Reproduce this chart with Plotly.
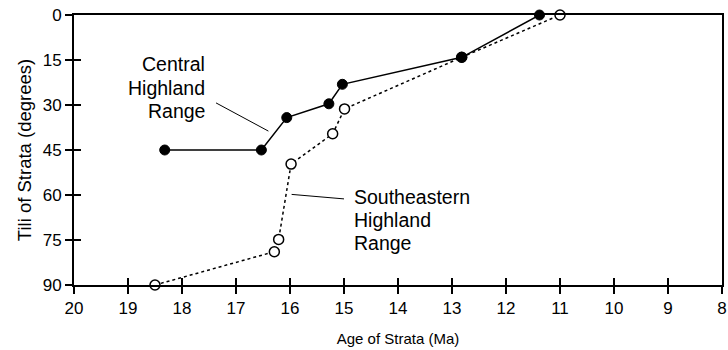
import plotly.graph_objects as go

central_age = [18.32, 16.53, 16.06, 15.28, 15.03, 12.82, 11.38]
central_tilt = [45, 45, 34.2, 29.6, 23.1, 14.1, 0]
se_age = [18.5, 16.29, 16.21, 15.98, 15.21, 14.99, 12.82, 11.0]
se_tilt = [90, 78.9, 74.8, 49.7, 39.6, 31.3, 14.1, 0]
x_ticks = list(range(20, 7, -1))
y_ticks = [0, 15, 30, 45, 60, 75, 90]

central_label = ["Central", "Highland", "Range"]
central_label_y = [16.3, 24.4, 32.0]
se_label = ["Southeastern", "Highland", "Range"]
se_label_y = [60.7, 68.3, 76.0]

FONT = "Liberation Sans, Arial, sans-serif"

fig = go.Figure()
fig.add_trace(go.Scatter(
    x=se_age, y=se_tilt, mode="lines+markers",
    line=dict(color="black", width=1.5, dash="dot"),
    marker=dict(size=10, color="white", line=dict(color="black", width=1.5)),
    cliponaxis=False, showlegend=False))
fig.add_trace(go.Scatter(
    x=central_age, y=central_tilt, mode="lines+markers",
    line=dict(color="black", width=1.5),
    marker=dict(size=10, color="black", line=dict(color="black", width=1)),
    cliponaxis=False, showlegend=False))

axis_common = dict(showgrid=False, zeroline=False, linecolor="black", linewidth=2,
                   tickcolor="black", ticklen=7, tickwidth=1.5)
fig.update_layout(
    width=728, height=350,
    margin=dict(l=74, r=1, t=15, b=65),
    plot_bgcolor="white", paper_bgcolor="white",
    font=dict(family=FONT, size=17, color="black"),
    xaxis=dict(range=[20, 8], tickvals=x_ticks, ticks="outside", showline=True, mirror=True,
               ticklabeloverflow="allow",
               title=dict(text="Age of Strata (Ma)", font=dict(size=15), standoff=16),
               tickfont=dict(size=17), **axis_common),
    yaxis=dict(range=[90, 0], tickvals=y_ticks, ticks="outside", showline=True, mirror=True,
               title=dict(text="Tili of Strata (degrees)", font=dict(size=18.5), standoff=6),
               tickfont=dict(size=17), **axis_common),
    xaxis2=dict(range=[20, 8], tickvals=x_ticks, ticks="inside", showticklabels=False,
                overlaying="x", side="bottom", **axis_common),
    yaxis2=dict(range=[90, 0], tickvals=y_ticks, ticks="inside", showticklabels=False,
                overlaying="y", side="left", **axis_common),
)
# invisible trace to activate the secondary axes
fig.add_trace(go.Scatter(x=[20], y=[90], xaxis="x2", yaxis="y2", mode="markers",
                         marker=dict(opacity=0), hoverinfo="skip", showlegend=False))

for txt, yy in zip(central_label, central_label_y):
    fig.add_annotation(x=17.53, y=yy, xref="x", yref="y", text=txt, showarrow=False,
                       xanchor="right", yanchor="middle", font=dict(size=19.5, family=FONT))
for txt, yy in zip(se_label, se_label_y):
    fig.add_annotation(x=14.85, y=yy, xref="x", yref="y", text=txt, showarrow=False,
                       xanchor="left", yanchor="middle", font=dict(size=19.5, family=FONT))
fig.add_shape(type="line", x0=17.37, y0=29.3, x1=16.40, y1=38.7, xref="x", yref="y",
              line=dict(color="black", width=1))
fig.add_shape(type="line", x0=15.97, y0=59.8, x1=15.0, y1=61.3, xref="x", yref="y",
              line=dict(color="black", width=1))

fig.write_html("out.html")
